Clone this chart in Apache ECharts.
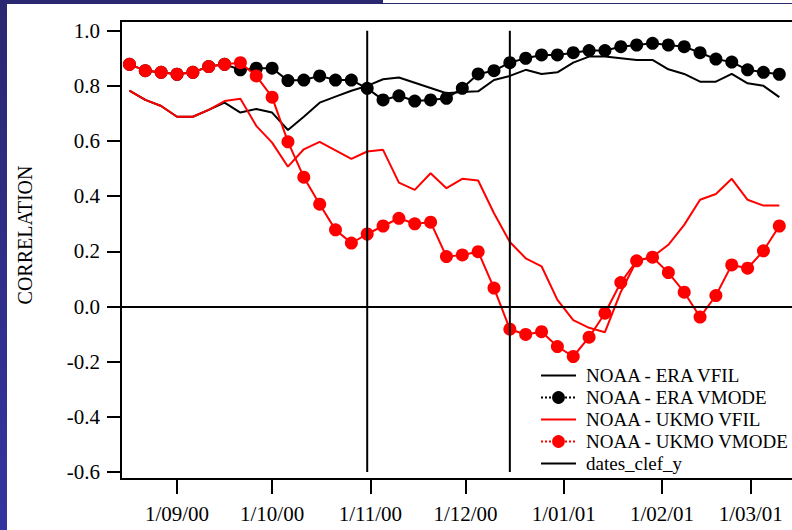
<!DOCTYPE html>
<html>
<head>
<meta charset="utf-8">
<script src="https://cdn.jsdelivr.net/npm/echarts@6/dist/echarts.min.js"></script>
<style>
  html, body { margin: 0; padding: 0; background: #ffffff; }
  #chart { width: 792px; height: 530px; }
</style>
</head>
<body>
<div id="chart"></div>
<script>
// Pentad dates (5-day steps) of the correlation series
const dates = [
  '2000-08-17','2000-08-22','2000-08-27','2000-09-01','2000-09-06','2000-09-11','2000-09-16',
  '2000-09-21','2000-09-26','2000-10-01','2000-10-06','2000-10-11','2000-10-16','2000-10-21',
  '2000-10-26','2000-10-31','2000-11-05','2000-11-10','2000-11-15','2000-11-20','2000-11-25',
  '2000-11-30','2000-12-05','2000-12-10','2000-12-15','2000-12-20','2000-12-25','2000-12-30',
  '2001-01-04','2001-01-09','2001-01-14','2001-01-19','2001-01-24','2001-01-29','2001-02-03',
  '2001-02-08','2001-02-13','2001-02-18','2001-02-23','2001-02-28','2001-03-05','2001-03-10'
];

const eraVfil = [
  0.783,0.749,0.727,0.688,0.688,0.713,0.739,0.703,0.716,0.703,
  0.640,0.688,0.739,0.761,0.782,0.800,0.824,0.830,0.811,0.792,
  0.773,0.778,0.780,0.821,0.836,0.858,0.843,0.849,0.884,0.906,
  0.906,0.900,0.894,0.894,0.860,0.843,0.815,0.815,0.843,0.809,
  0.800,0.759
];

const eraVmode = [
  0.878,0.855,0.849,0.842,0.849,0.870,0.878,0.858,0.864,0.864,
  0.819,0.821,0.836,0.821,0.821,0.791,0.749,0.764,0.745,0.749,
  0.755,0.791,0.843,0.855,0.884,0.900,0.912,0.912,0.920,0.928,
  0.928,0.942,0.948,0.954,0.948,0.942,0.920,0.897,0.886,0.858,
  0.849,0.842
];

const ukmoVfil = [
  0.783,0.749,0.727,0.688,0.688,0.713,0.745,0.753,0.655,0.594,
  0.507,0.570,0.597,0.566,0.535,0.562,0.568,0.449,0.423,0.483,
  0.429,0.463,0.457,0.338,0.234,0.175,0.146,0.024,-0.049,-0.077,
  -0.093,0.053,0.166,0.180,0.224,0.296,0.387,0.408,0.463,0.387,
  0.366,0.366
];

const ukmoVmode = [
  0.878,0.855,0.849,0.842,0.849,0.870,0.878,0.884,0.836,0.759,
  0.597,0.469,0.371,0.278,0.230,0.263,0.292,0.320,0.300,0.306,
  0.181,0.187,0.199,0.067,-0.082,-0.101,-0.091,-0.145,-0.181,-0.111,
  -0.024,0.087,0.166,0.179,0.123,0.052,-0.038,0.040,0.151,0.139,
  0.202,0.292
];

// Key dates drawn as vertical markers, spanning this correlation range
const keyDates = ['2000-10-31', '2000-12-15'];
const keySpan = [1.0, -0.6];

// Axis ticks
const xTickDates = ['2000-09-01','2000-10-01','2000-11-01','2000-12-01','2001-01-01','2001-02-01','2001-03-01'];
const xTickLabels = ['1/09/00','1/10/00','1/11/00','1/12/00','1/01/01','1/02/01','1/03/01'];
const yTicks = [-0.6, -0.4, -0.2, 0.0, 0.2, 0.4, 0.6, 0.8, 1.0];

const FONT = '"Liberation Serif", "Times New Roman", serif';
const RED = '#ff0000';
const BLACK = '#000000';

// Dates are placed on a numeric axis as millisecond timestamps
function ts(s) {
  const p = s.split('-').map(Number);
  return Date.UTC(p[0], p[1] - 1, p[2]);
}
const DAY = 86400000;
const xTickTs = xTickDates.map(ts);
const pairs = vals => dates.map((d, i) => [ts(d), vals[i]]);

const keySeries = keyDates.map(d => ({
  name: 'dates_clef_y',
  type: 'line',
  data: keySpan.map(v => [ts(d), v]),
  symbol: 'none',
  lineStyle: { color: BLACK, width: 2 },
  itemStyle: { color: BLACK },
  z: 5,
  silent: true
}));

const chart = echarts.init(document.getElementById('chart'), null, { renderer: 'svg' });

chart.setOption({
  animation: false,
  backgroundColor: '#ffffff',
  grid: {
    left: 121, top: 21, width: 690, height: 458,
    outerBoundsMode: 'none',
    containLabel: false,
    show: true, borderColor: BLACK, borderWidth: 2, backgroundColor: 'transparent'
  },
  xAxis: {
    type: 'value',
    min: ts('2000-08-14') + 8 * 3600000,
    max: ts('2001-03-20'),
    axisLine: { show: true, onZero: false, lineStyle: { color: BLACK, width: 2 } },
    axisTick: { show: true, length: 15, lineStyle: { color: BLACK, width: 2 }, customValues: xTickTs },
    axisLabel: {
      customValues: xTickTs,
      formatter: v => {
        const i = xTickTs.findIndex(t => Math.abs(t - v) < DAY / 2);
        return i >= 0 ? xTickLabels[i] : '';
      },
      color: BLACK, fontFamily: FONT, fontSize: 21, margin: 24
    },
    splitLine: { show: false },
    minorTick: { show: false }
  },
  yAxis: {
    type: 'value',
    min: -0.625,
    max: 1.035,
    axisLine: { show: true, onZero: false, lineStyle: { color: BLACK, width: 2 } },
    axisTick: { show: true, length: 14, lineStyle: { color: BLACK, width: 2 }, customValues: yTicks },
    axisLabel: {
      customValues: yTicks,
      formatter: v => v.toFixed(1),
      color: BLACK, fontFamily: FONT, fontSize: 21, margin: 21
    },
    splitLine: { show: false }
  },
  legend: {
    orient: 'vertical',
    left: 540,
    top: 366,
    padding: 0,
    itemWidth: 35,
    itemHeight: 16,
    itemGap: 3,
    selectedMode: false,
    textStyle: { color: BLACK, fontFamily: FONT, fontSize: 19, lineHeight: 19, padding: [0, 0, 0, 5] },
    data: [
      { name: 'NOAA - ERA VFIL', itemStyle: { opacity: 0 } },
      { name: 'NOAA - ERA VMODE', lineStyle: { type: 'dotted' } },
      { name: 'NOAA - UKMO VFIL', itemStyle: { opacity: 0 } },
      { name: 'NOAA - UKMO VMODE', lineStyle: { type: 'dotted' } },
      { name: 'dates_clef_y', itemStyle: { opacity: 0 } }
    ]
  },
  graphic: [
    {
      type: 'rect', left: 0, top: 0, silent: true,
      shape: { x: 0, y: 0, width: 7, height: 530 },
      style: {
        fill: new echarts.graphic.LinearGradient(0, 0, 0, 1, [
          { offset: 0, color: '#2a2870' },
          { offset: 1, color: '#3434a0' }
        ])
      }
    },
    {
      type: 'rect', left: 0, top: 0, silent: true,
      shape: { x: 0, y: 0, width: 383, height: 4 },
      style: { fill: '#2a2870' }
    },
    {
      type: 'line', silent: true,
      shape: { x1: 383, y1: 3.5, x2: 792, y2: 3.5 },
      style: { stroke: '#2a2870', lineWidth: 1 }
    },
    {
      type: 'text', silent: true,
      x: 24.5, y: 235, rotation: Math.PI / 2,
      style: {
        text: 'CORRELATION', fill: BLACK,
        font: '20px "Liberation Serif", "Times New Roman", serif',
        align: 'center', verticalAlign: 'middle'
      }
    }
  ],
  series: [
    {
      name: 'NOAA - ERA VFIL',
      type: 'line',
      data: pairs(eraVfil),
      symbol: 'none',
      lineStyle: { color: BLACK, width: 2 },
      itemStyle: { color: BLACK },
      z: 2,
      markLine: {
        silent: true,
        symbol: 'none',
        label: { show: false },
        lineStyle: { color: BLACK, width: 2, type: 'solid' },
        data: [{ yAxis: 0 }]
      }
    },
    {
      name: 'NOAA - ERA VMODE',
      type: 'line',
      data: pairs(eraVmode),
      symbol: 'circle',
      symbolSize: 13,
      showAllSymbol: true,
      lineStyle: { color: BLACK, width: 2 },
      itemStyle: { color: BLACK },
      z: 3
    },
    {
      name: 'NOAA - UKMO VFIL',
      type: 'line',
      data: pairs(ukmoVfil),
      symbol: 'none',
      lineStyle: { color: RED, width: 2 },
      itemStyle: { color: RED },
      z: 3
    },
    {
      name: 'NOAA - UKMO VMODE',
      type: 'line',
      data: pairs(ukmoVmode),
      symbol: 'circle',
      symbolSize: 13,
      showAllSymbol: true,
      lineStyle: { color: RED, width: 2 },
      itemStyle: { color: RED },
      z: 4
    }
  ].concat(keySeries)
});
</script>
</body>
</html>
